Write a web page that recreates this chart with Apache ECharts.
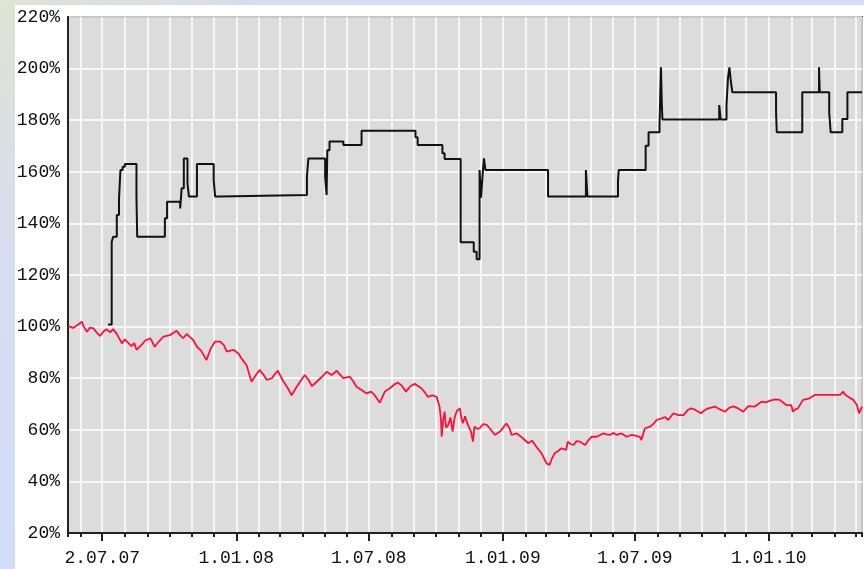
<!DOCTYPE html>
<html>
<head>
<meta charset="utf-8">
<script src="https://cdn.jsdelivr.net/npm/echarts@6/dist/echarts.min.js"></script>
<style>
html,body{margin:0;padding:0;width:864px;height:569px;overflow:hidden;
  background:linear-gradient(135deg,#dfe4d2 0%,#d6def0 18%,#d3dcfb 40%,#d3dcfb 100%);}
#chart{position:absolute;left:15px;top:5px;width:849px;height:564px;background:#ffffff;}
</style>
</head>
<body>
<div id="chart"></div>
<script>
// x-axis range and tick labels
const axisStart = '2007-05-15';
const axisEnd = '2010-05-09';
const tickMonths = ['2007-07', '2008-01', '2008-07', '2009-01', '2009-07', '2010-01'];
const tickLabels = ['2.07.07', '1.01.08', '1.07.08', '1.01.09', '1.07.09', '1.01.10'];
const yTicks = [20, 40, 60, 80, 100, 120, 140, 160, 180, 200, 220];

// red series (benchmark)
const redDates = ['2007-05-15','2007-05-22','2007-05-29','2007-06-03','2007-06-06','2007-06-10','2007-06-14','2007-06-19','2007-06-24','2007-06-28','2007-07-03','2007-07-07','2007-07-12','2007-07-16','2007-07-21','2007-07-28','2007-08-01','2007-08-04','2007-08-10','2007-08-14','2007-08-17','2007-08-24','2007-08-29','2007-09-05','2007-09-11','2007-09-17','2007-09-23','2007-10-02','2007-10-06','2007-10-11','2007-10-16','2007-10-20','2007-10-25','2007-10-29','2007-11-03','2007-11-08','2007-11-14','2007-11-21','2007-11-27','2007-12-03','2007-12-10','2007-12-15','2007-12-19','2007-12-28',
'2008-01-04','2008-01-08','2008-01-15','2008-01-22','2008-01-28','2008-02-02','2008-02-07','2008-02-12','2008-02-19','2008-02-23','2008-02-27','2008-03-06','2008-03-11','2008-03-17','2008-03-24','2008-03-29','2008-04-04','2008-04-09','2008-04-14','2008-04-23','2008-04-28','2008-05-04','2008-05-11','2008-05-18','2008-05-22','2008-05-27','2008-06-05','2008-06-10','2008-06-14','2008-06-20','2008-06-28','2008-07-04','2008-07-09','2008-07-16','2008-07-23','2008-07-30','2008-08-05','2008-08-10','2008-08-15','2008-08-21','2008-08-27','2008-09-02','2008-09-07','2008-09-11','2008-09-16','2008-09-20','2008-09-26','2008-10-02','2008-10-06','2008-10-08','2008-10-09','2008-10-11','2008-10-13','2008-10-15','2008-10-18','2008-10-21','2008-10-24','2008-10-27','2008-10-30','2008-11-03','2008-11-05','2008-11-07','2008-11-10','2008-11-14','2008-11-18','2008-11-21','2008-11-23','2008-11-27','2008-11-30','2008-12-05','2008-12-10','2008-12-15','2008-12-21','2008-12-28',
'2009-01-06','2009-01-10','2009-01-13','2009-01-20','2009-01-26','2009-02-05','2009-02-10','2009-02-16','2009-02-23','2009-03-02','2009-03-06','2009-03-09','2009-03-13','2009-03-18','2009-03-22','2009-03-29','2009-03-31','2009-04-04','2009-04-08','2009-04-12','2009-04-17','2009-04-24','2009-04-29','2009-05-03','2009-05-10','2009-05-14','2009-05-19','2009-05-23','2009-05-28','2009-06-02','2009-06-06','2009-06-13','2009-06-20','2009-06-27','2009-07-03','2009-07-08','2009-07-10','2009-07-15','2009-07-22','2009-07-27','2009-07-31','2009-08-07','2009-08-12','2009-08-16','2009-08-23','2009-08-30','2009-09-06','2009-09-12','2009-09-16','2009-09-21','2009-09-30','2009-10-05','2009-10-10','2009-10-19','2009-10-26','2009-11-02','2009-11-08','2009-11-14','2009-11-20','2009-11-27','2009-12-04','2009-12-13','2009-12-22','2009-12-28',
'2010-01-03','2010-01-10','2010-01-16','2010-01-25','2010-02-01','2010-02-03','2010-02-06','2010-02-10','2010-02-17','2010-02-26','2010-03-05','2010-03-16','2010-03-28','2010-04-09','2010-04-13','2010-04-16','2010-04-20','2010-04-27','2010-05-02','2010-05-05','2010-05-09'];
const redValues = [100.3,99.5,100.8,101.9,99.8,98,99.6,99.3,97.5,96.4,98.2,99,97.8,99,97.2,93.5,95,94.2,92.4,93.6,91,92.9,94.6,95.5,92.2,94.3,96.1,96.7,97.4,98.4,96.6,95.5,97.2,96,94.8,92.2,90.6,87,91.5,94.2,94.2,92.8,90.3,91,
89.6,87.7,85.1,78.6,81.2,83.2,81.5,79.3,80,81.6,82.9,78.6,76.5,73.4,76.7,78.8,81.2,79.4,76.9,79.3,80.6,82.5,81.2,82.9,81.5,80,80.6,78.6,76.7,75.6,74.1,74.8,73.4,70.5,74.8,76.1,77.6,78.3,77.2,74.8,76.9,77.8,76.9,76.1,74.5,72.8,73.3,72.8,69,64,57.3,63.5,67,60.8,61.9,64.8,59.3,65.1,67.4,68.3,64.6,62.5,65.2,61.9,59.5,55.4,61.2,60.4,60.6,62.2,61.9,60.2,58,59.3,
62.5,60.6,58,58.6,57.3,54.8,55.8,53.4,50.9,47,46.4,48.6,50.9,51.8,52.8,52.2,55.4,54.5,54.1,55.6,55.4,54.1,56.2,57.3,57.3,57.9,58.6,58.2,58,58.8,58,58.6,57.3,58,57.6,57.3,56,60.6,61.2,62.4,63.8,64.4,64.9,63.8,66.4,65.7,65.7,67.7,68.3,67.9,66.4,67.6,68.3,69,67.9,67,68.6,69.1,68.3,67,69.2,69,70.9,70.6,
71.3,71.8,71.6,69.6,69.6,67,67.8,68.3,71.6,72.2,73.5,73.5,73.5,73.5,74.8,73.6,72.8,71.6,69.6,66.4,69];

// black series (fund), each point = date a new level starts
const blackDates = ['2007-07-09','2007-07-14','2007-07-16','2007-07-21','2007-07-24','2007-07-26','2007-07-29','2007-08-01','2007-08-17','2007-08-18','2007-09-25','2007-09-28','2007-10-16','2007-10-18','2007-10-21','2007-10-26','2007-10-28','2007-11-08','2007-12-01','2007-12-03','2007-12-10',
'2008-04-07','2008-04-09','2008-05-02','2008-05-04','2008-05-05','2008-05-08','2008-05-27','2008-06-21','2008-09-03','2008-09-06','2008-10-10','2008-10-13','2008-11-04','2008-11-22','2008-11-26','2008-11-30','2008-12-02','2008-12-04','2008-12-06','2008-12-08',
'2009-03-04','2009-04-25','2009-04-27','2009-06-08','2009-06-09','2009-07-16','2009-07-20','2009-08-04','2009-08-06','2009-08-07','2009-08-08','2009-10-25','2009-10-27','2009-11-04','2009-11-06','2009-11-08','2009-11-10','2009-11-12',
'2010-01-11','2010-01-12','2010-02-16','2010-03-11','2010-03-12','2010-03-25','2010-03-27','2010-04-12','2010-04-19','2010-05-09'];
const blackValues = [100.8,132.9,134.8,143.3,149.3,160.7,162,163,150,134.8,142,148.4,145.8,153.6,165.2,155.5,150.4,163,156.8,150.4,151,
158.1,165.2,158.1,151,168.4,171.7,170.4,175.9,173.4,170.4,167.2,165,132.7,129,126.1,160.7,150,158.1,165.2,160.7,
150.4,160.7,150.4,156.2,160.7,170.1,175.3,177.7,200.5,188,180.3,185.9,180.3,185.9,196.2,200.5,194.9,190.8,
183.3,175.3,190.8,200.5,190.8,183,175.3,180.5,190.8,190.8];

const FONT = 'Liberation Mono';
const chart = echarts.init(document.getElementById('chart'));
const DAY = 86400000;
function pad(n){return (n<10?'0':'')+n;}

chart.setOption({
  animation: false,
  grid: {left: 53, top: 12, right: 2, bottom: 36, show: true, containLabel: false,
         outerBoundsMode: 'none',
         backgroundColor: '#dcdcdc', borderColor: '#222', borderWidth: 2},
  xAxis: [
    {type: 'time', position: 'bottom', min: axisStart, max: axisEnd, splitNumber: 40,
     minInterval: 28 * DAY, maxInterval: 31 * DAY,
     axisLine: {show: true, lineStyle: {color: '#222', width: 2}},
     axisTick: {show: true, length: 4, lineStyle: {color: '#222', width: 2}},
     axisLabel: {show: false},
     splitLine: {show: true, lineStyle: {color: '#ffffff', width: 1.5}}},
    {type: 'time', position: 'bottom', offset: 0, min: axisStart, max: axisEnd, splitNumber: 6,
     minInterval: 180 * DAY, maxInterval: 184 * DAY,
     axisLine: {show: false},
     axisTick: {show: true, length: 8, lineStyle: {color: '#222', width: 2}},
     splitLine: {show: false},
     axisLabel: {show: true, color: '#111', fontFamily: FONT, fontSize: 18, margin: 16,
       showMinLabel: false, showMaxLabel: false,
       formatter: function (v) {
         const d = new Date(v);
         if (d.getDate() !== 1) return '';
         const key = d.getFullYear() + '-' + pad(d.getMonth() + 1);
         const i = tickMonths.indexOf(key);
         return i >= 0 ? tickLabels[i] : '';
       }}}
  ],
  yAxis: {type: 'value', min: yTicks[0], max: yTicks[yTicks.length - 1], interval: 20,
    axisLine: {show: true, lineStyle: {color: '#222', width: 2}},
    axisTick: {show: false},
    splitLine: {show: true, lineStyle: {color: '#ffffff', width: 1.5}},
    axisLabel: {color: '#111', fontFamily: FONT, fontSize: 18, margin: 8,
      formatter: function (v) { return v + '%'; }}},
  series: [
    {type: 'line', xAxisIndex: 0, showSymbol: false, symbol: 'none',
     data: redDates.map((d, i) => [d, redValues[i]]),
     lineStyle: {color: '#ff1038', width: 1.8}},
    {type: 'line', xAxisIndex: 0, showSymbol: false, symbol: 'none', step: 'end',
     data: blackDates.map((d, i) => [d, blackValues[i]]),
     lineStyle: {color: '#111111', width: 2}}
  ]
});
</script>
</body>
</html>
